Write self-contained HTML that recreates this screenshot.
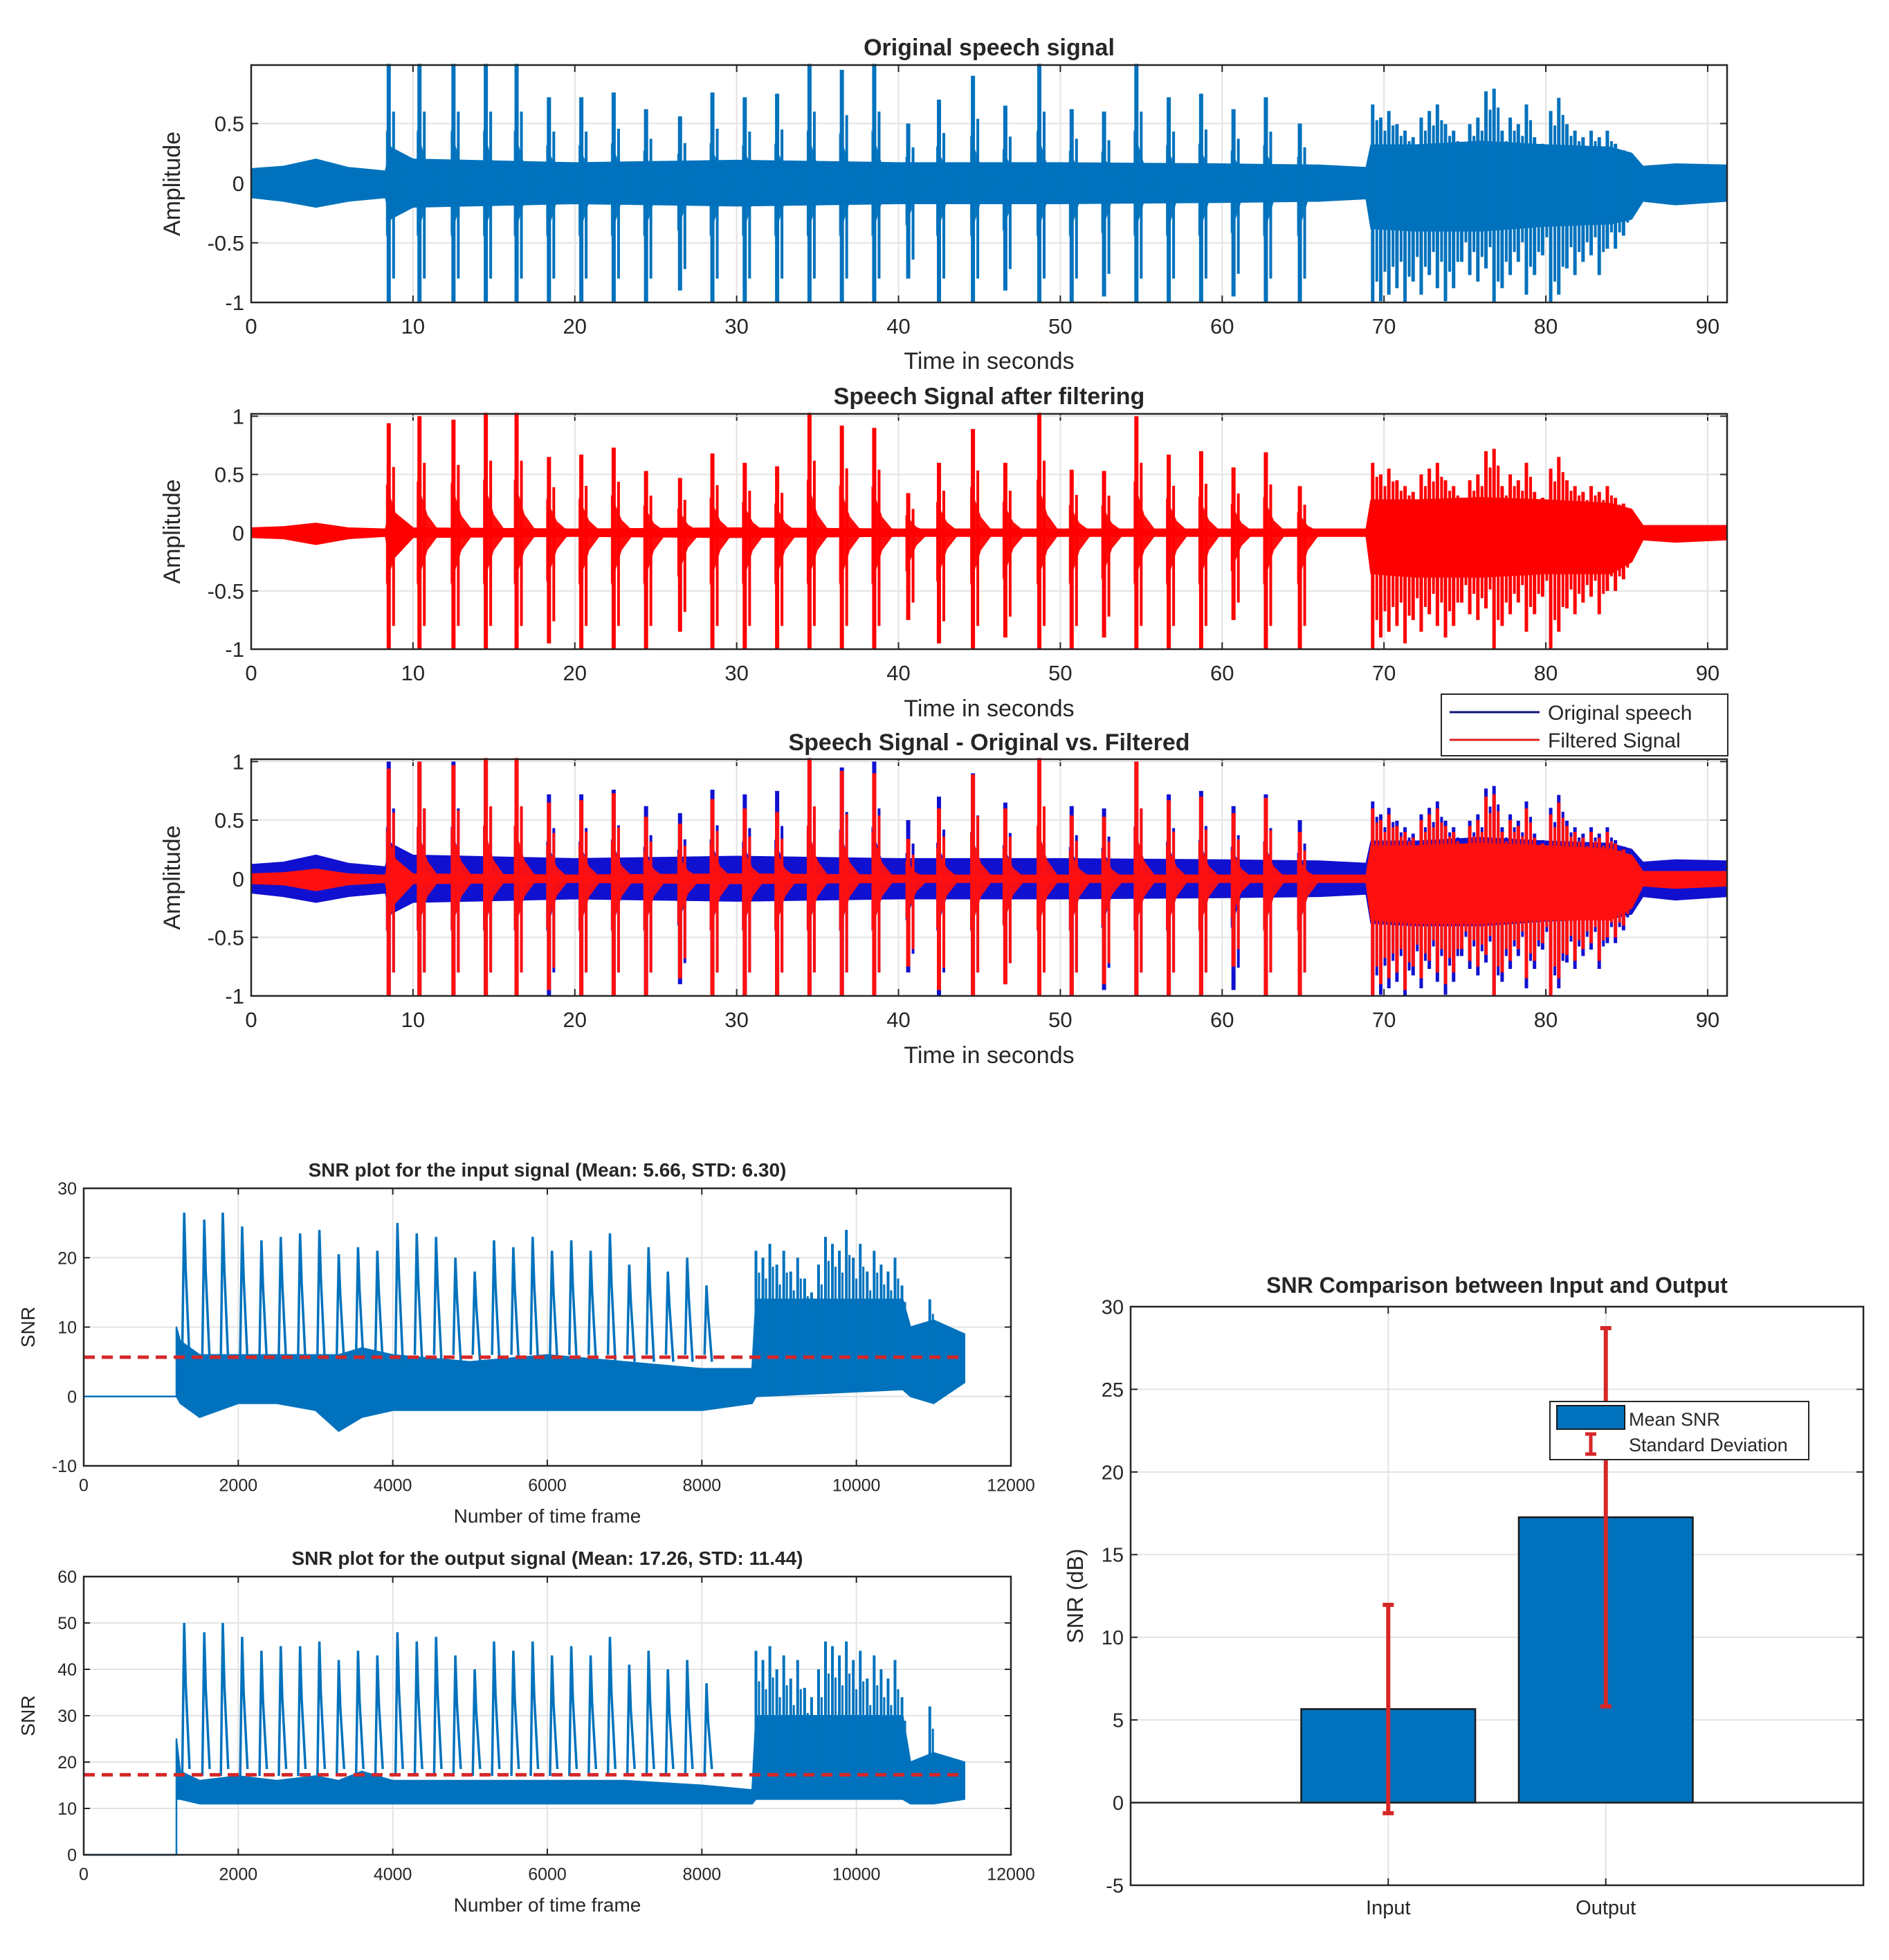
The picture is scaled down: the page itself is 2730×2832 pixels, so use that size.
<!DOCTYPE html>
<html><head><meta charset="utf-8"><style>
html,body{margin:0;padding:0;background:#fff}
svg{display:block}
text{font-family:"Liberation Sans",sans-serif;fill:#262626}
</style></head><body>
<svg id="fig" xmlns="http://www.w3.org/2000/svg" width="2730" height="2832" viewBox="0 0 2730 2832"></svg>
<script>
// ---------- speech data (seconds, amplitude) ----------
const spikeTimes=[8.5,10.4,12.5,14.5,16.4,18.4,20.4,22.4,24.4,26.5,28.5,30.5,32.5,34.5,36.5,38.5,40.6,42.5,44.6,46.6,48.7,50.7,52.7,54.7,56.7,58.7,60.7,62.7,64.8];
const origPos=[1,1,1,1,1,0.72,0.72,0.76,0.62,0.56,0.76,0.72,0.75,1,0.95,1,0.5,0.7,0.9,0.65,1,0.62,0.6,1,0.72,0.75,0.62,0.72,0.5];
const origNeg=[-1,-1,-1,-1,-1,-1,-1,-1,-1,-0.9,-1,-1,-1,-1,-1,-1,-0.8,-1,-1,-0.9,-1,-1,-0.95,-1,-1,-1,-0.95,-1,-1];
const filtPos=[0.94,1,0.97,1.03,1.03,0.65,0.67,0.73,0.53,0.47,0.68,0.6,0.57,1.03,0.92,0.9,0.34,0.6,0.89,0.6,1.03,0.54,0.53,1.0,0.67,0.7,0.56,0.69,0.4];
const filtNeg=[-1,-1,-1,-1,-1,-0.95,-1,-1,-1,-0.85,-1,-1,-1,-1,-1,-1,-0.75,-0.95,-1,-0.9,-1,-1,-0.9,-1,-1,-1,-0.75,-1,-1];
const burstTimes=[69.3,69.8,70.3,70.8,71.3,71.8,72.3,72.8,73.3,73.8,74.3,74.8,75.3,75.8,76.3,76.8,77.3,77.8,78.3,78.8,79.3,79.8,80.3,80.8,81.3,81.8,82.3,82.8,83.3,83.8,84.3,84.8];
const burstPos=[0.6,0.5,0.55,0.45,0.4,0.35,0.5,0.55,0.6,0.45,0.4,0.3,0.45,0.5,0.7,0.72,0.4,0.5,0.45,0.6,0.35,0.3,0.55,0.65,0.45,0.4,0.35,0.4,0.35,0.4,0.3,0.25];
const burstNeg=[-1,-0.9,-0.85,-0.8,-0.95,-0.75,-0.85,-0.7,-0.8,-0.9,-0.8,-0.6,-0.7,-0.75,-0.65,-1,-0.8,-0.7,-0.6,-0.85,-0.7,-0.55,-1,-0.85,-0.65,-0.7,-0.6,-0.55,-0.7,-0.5,-0.5,-0.4];
const noiseTimes=[0,2,4,6,8.3,8.6,10,20,30,40,50,60,66,68.9,69.2,72,76,80,84,85.3,86,88,91.2];
const origUp=[0.12,0.14,0.2,0.13,0.1,0.3,0.2,0.17,0.19,0.17,0.17,0.16,0.15,0.13,0.32,0.32,0.35,0.32,0.3,0.25,0.14,0.16,0.15];
const origDn=[-0.12,-0.15,-0.2,-0.15,-0.12,-0.3,-0.2,-0.17,-0.19,-0.17,-0.17,-0.16,-0.15,-0.13,-0.38,-0.4,-0.4,-0.36,-0.34,-0.3,-0.15,-0.18,-0.15];
const filtUp=[0.04,0.05,0.08,0.04,0.03,0.2,0.04,0.03,0.04,0.03,0.03,0.03,0.03,0.03,0.28,0.28,0.3,0.28,0.25,0.2,0.06,0.06,0.06];
const filtDn=[-0.04,-0.05,-0.1,-0.05,-0.03,-0.25,-0.04,-0.03,-0.04,-0.03,-0.03,-0.03,-0.03,-0.03,-0.35,-0.38,-0.38,-0.35,-0.35,-0.25,-0.06,-0.08,-0.06];
const speechXTicks=[0,10,20,30,40,50,60,70,80,90];
const speechYTicks=[-1,-0.5,0,0.5,1];
const speechYLabels=["-1","-0.5","0","0.5","1"];
// ---------- SNR data (frames, dB) ----------
const snrSpikeFrames=[1300,1560,1800,2050,2300,2550,2800,3050,3300,3550,3800,4060,4310,4560,4810,5060,5310,5560,5810,6060,6310,6560,6810,7060,7310,7560,7810,8060];
const snrInPeak=[26.5,25.5,26.5,24.5,22.5,23,23.5,24,20.5,21.5,21,25,23.5,23,20,18,22.5,21.5,23,21,22.5,21,23.5,19,21.5,18,20,16];
const snrOutPeak=[50,48,50,47,44,45,45,46,42,44,43,48,46,47,43,40,46,44,46,43,45,43,47,41,44,40,42,37];
const snrBurstFrames=[8700,8790,8880,8970,9060,9150,9240,9330,9420,9510,9600,9690,9780,9870,9960,10050,10140,10230,10320,10410,10500,10590,10950];
const snrInBurst=[21,20,22,19,21,18,20,17,15,19,23,22,21,24,20,22,18,21,19,18,20,16,14];
const snrOutBurst=[44,42,45,40,43,38,42,36,34,40,46,45,43,46,42,44,38,43,40,38,42,34,32];
const snrBaseFrames=[1200,1250,1500,2000,2500,3000,3300,3600,4000,5000,6000,7000,8000,8650,8700,10600,10700,11000,11400];
const snrInLow=[0,-1,-3,-1,-1,-2,-5,-3,-2,-2,-2,-2,-2,-1,0,1,0,-1,2];
const snrInHigh=[10,8,6,6,6,6,6,7,6,5,6,5,4,4,14,14,10,11,9];
const snrOutLow=[12,12,11,11,11,11,11,11,11,11,11,11,11,11,12,12,11,11,12];
const snrOutHigh=[25,18,16,17,16,17,16,18,16,16,16,16,15,14,30,30,20,22,20];
const snrMeans=[5.66,17.26];
const snrXTicks=[0,2000,4000,6000,8000,10000,12000];
const snrInYTicks=[-10,0,10,20,30];
const snrOutYTicks=[0,10,20,30,40,50,60];
// ---------- bar data ----------
const barCats=["Input","Output"];
const barMeans=[5.66,17.26];
const barStds=[6.30,11.44];
const barYTicks=[-5,0,5,10,15,20,25,30];

const NS="http://www.w3.org/2000/svg";
const fig=document.getElementById('fig');
function el(tag,attrs,parent){const e=document.createElementNS(NS,tag);for(const k in attrs)e.setAttribute(k,attrs[k]);(parent||fig).appendChild(e);return e;}
function txt(s,x,y,size,anchor,weight,parent){const t=el('text',{x:x,y:y,'font-size':size,'text-anchor':anchor||'middle','font-weight':weight||'normal'},parent);t.textContent=s;return t;}
function axis(L,R,T,B,x0,x1,y0,y1){return{L,R,T,B,sx:v=>L+(v-x0)/(x1-x0)*(R-L),sy:v=>B-(v-y0)/(y1-y0)*(B-T)};}

function frame(ax,g,xt,xl,yt,yl,fs,tickLen){
  xt.forEach(v=>{const x=ax.sx(v);const l=el('line',{x1:x,y1:ax.T,x2:x,y2:ax.B,stroke:'#e3e3e3','stroke-width':2},g);
    
    
    el('line',{x1:x,y1:ax.B,x2:x,y2:ax.B-tickLen,stroke:'#262626','stroke-width':2},g);
    el('line',{x1:x,y1:ax.T,x2:x,y2:ax.T+tickLen,stroke:'#262626','stroke-width':2},g);});
  yt.forEach(v=>{const y=ax.sy(v);const l=el('line',{x1:ax.L,y1:y,x2:ax.R,y2:y,stroke:'#e3e3e3','stroke-width':2},g);
    
    
    el('line',{x1:ax.L,y1:y,x2:ax.L+tickLen,y2:y,stroke:'#262626','stroke-width':2},g);
    el('line',{x1:ax.R,y1:y,x2:ax.R-tickLen,y2:y,stroke:'#262626','stroke-width':2},g);});
  xt.forEach((v,i)=>{if(xl[i]===null)return;const t=txt(xl[i],ax.sx(v),ax.B+fs*1.45,fs,'middle','normal',g);
    
    });
  yt.forEach((v,i)=>{const t=txt(yl[i],ax.L-10,ax.sy(v)+fs*0.36,fs,'end','normal',g);
    
    });
}
function box(ax,g){const r=el('rect',{x:ax.L,y:ax.T,width:ax.R-ax.L,height:ax.B-ax.T,fill:'none',stroke:'#262626','stroke-width':2.5},g);
  
  }

function band(ax,g,xs,up,dn,color,name){let p=xs.map((x,i)=>ax.sx(x)+','+ax.sy(up[i]));for(let i=xs.length-1;i>=0;i--)p.push(ax.sx(xs[i])+','+ax.sy(dn[i]));
  const e=el('polygon',{points:p.join(' '),fill:color,stroke:color,'stroke-width':2,'stroke-linejoin':'round'},g);
  
  }

function speech(ax,g,color,pos,neg,up,dn,bScale,name){
  band(ax,g,noiseTimes,up,dn,color,name+'-envelope');
  spikeTimes.forEach((t,i)=>{
    const x=ax.sx(t);
    const d=el('polygon',{points:[x-4,ax.sy(pos[i]*0.45),ax.sx(t+0.5),ax.sy(pos[i]*0.15),ax.sx(t+1.3),ax.sy(0),ax.sx(t+0.5),ax.sy(neg[i]*0.15),x-4,ax.sy(neg[i]*0.45)].join(' '),fill:color,opacity:0.95},g);
    
    
    const l=el('line',{x1:x,y1:ax.sy(neg[i]),x2:x,y2:ax.sy(pos[i]),stroke:color,'stroke-width':6},g);
    
    
    const l2=el('line',{x1:x+7,y1:ax.sy(neg[i]*0.8),x2:x+7,y2:ax.sy(pos[i]*0.6),stroke:color,'stroke-width':4},g);
    
    
  });
  burstTimes.forEach((t,i)=>{const x=ax.sx(t);
    const l=el('line',{x1:x,y1:ax.sy(Math.max(burstNeg[i]*bScale,-1)),x2:x,y2:ax.sy(Math.min(burstPos[i]*bScale,1)),stroke:color,'stroke-width':5},g);
    
    
    const l2=el('line',{x1:x+6,y1:ax.sy(burstNeg[i]*bScale*0.75),x2:x+6,y2:ax.sy(burstPos[i]*bScale*0.8),stroke:color,'stroke-width':4},g);
    
    });
}

const sxl=speechXTicks.map(String);
function speechPanel(T,B,ymax,yt,yl,title,titleY,ticky,panelName,drawFn){
  const g=el('g',{});  
  const ax=axis(363,2496,T,B,0,91.2,-1,ymax);
  frame(ax,g,speechXTicks,sxl,yt,yl,31,10);
  const clip=el('g',{},g);
  drawFn(ax,clip);
  box(ax,g);
  const tt=txt(title,(363+2496)/2,titleY,34,'middle','bold',g);
  
  
  const xlb=txt('Time in seconds',(363+2496)/2,ticky+45,34,'middle','normal',g);
  
  
  const ylb=txt('Amplitude',0,0,34,'middle','normal',g);
  ylb.setAttribute('transform','translate(260,'+((T+B)/2)+') rotate(-90)');
  
  
  return g;
}
speechPanel(94,437,0.99,speechYTicks.slice(0,4),speechYLabels.slice(0,4),'Original speech signal',80,488,'original-speech-panel',(ax,g)=>speech(ax,g,'#0072BD',origPos,origNeg,origUp,origDn,1.1,'original-signal'));
speechPanel(598,938,1.02,speechYTicks,speechYLabels,'Speech Signal after filtering',584,990,'filtered-speech-panel',(ax,g)=>speech(ax,g,'#ff0000',filtPos,filtNeg,filtUp,filtDn,1.0,'filtered-signal'));
speechPanel(1097,1439,1.02,speechYTicks,speechYLabels,'Speech Signal - Original vs. Filtered',1084,1491,'comparison-panel',(ax,g)=>{
  speech(ax,g,'#1010d0',origPos,origNeg,origUp,origDn,1.1,'original-signal');
  speech(ax,g,'#ff1010',filtPos,filtNeg,filtUp,filtDn,1.0,'filtered-signal');});

// legend
(function(){const g=el('g',{});
  el('rect',{x:2083,y:1003,width:414,height:89,fill:'#fff',stroke:'#262626','stroke-width':2},g);
  const a=el('line',{x1:2095,y1:1029,x2:2225,y2:1029,stroke:'#10107a','stroke-width':3},g);
  
  const b=el('line',{x1:2095,y1:1069,x2:2225,y2:1069,stroke:'#e02020','stroke-width':3},g);
  
  const t1=txt('Original speech',2237,1040,30,'start','normal',g);
  const t2=txt('Filtered Signal',2237,1080,30,'start','normal',g);})();

// ---------- SNR panels ----------
function snrPanel(T,B,ymin,ymax,yt,title,titleY,peaks,burst,low,high,mean,panelName){
  const g=el('g',{});
  const ax=axis(121,1461,T,B,0,12000,ymin,ymax);
  frame(ax,g,snrXTicks,snrXTicks.map(String),yt,yt.map(String),25,9);
  const c='#0072BD';
  const base=el('polyline',{points:[ax.sx(0),ax.sy(0),ax.sx(1200),ax.sy(0),ax.sx(1200),ax.sy(high[0])].join(' '),fill:'none',stroke:c,'stroke-width':2.5},g);
  
  band(ax,g,snrBaseFrames,high,low,c,'snr-band');
  snrSpikeFrames.forEach((f,i)=>{
    const midv=(low[0]+high[0])/2;
    const p=el('polyline',{points:[ax.sx(f-25),ax.sy(high[3]),ax.sx(f),ax.sy(peaks[i]),ax.sx(f+20),ax.sy(high[3]+ (peaks[i]-high[3])*0.6),ax.sx(f+70),ax.sy(midv)].join(' '),fill:'none',stroke:c,'stroke-width':3.5},g);
    });
  snrBurstFrames.forEach((f,i)=>{
    const p=el('line',{x1:ax.sx(f),y1:ax.sy(low[15]),x2:ax.sx(f),y2:ax.sy(burst[i]),stroke:c,'stroke-width':4},g);
    
    const p2=el('line',{x1:ax.sx(f+40),y1:ax.sy(low[15]),x2:ax.sx(f+40),y2:ax.sy(burst[i]*0.85),stroke:c,'stroke-width':3},g);
    });
  const m=el('line',{x1:ax.sx(0),y1:ax.sy(mean),x2:ax.sx(11400),y2:ax.sy(mean),stroke:'#d62728','stroke-width':5,'stroke-dasharray':'16 10'},g);
  
  box(ax,g);
  const tt=txt(title,791,titleY,28,'middle','bold',g);
  const xl=txt('Number of time frame',791,B+82,28,'middle','normal',g);
  const yl=txt('SNR',0,0,28,'middle','normal',g);yl.setAttribute('transform','translate(50,'+((T+B)/2)+') rotate(-90)');
  
}
snrPanel(1717,2118,-10,30,snrInYTicks,'SNR plot for the input signal (Mean: 5.66, STD: 6.30)',1700,snrInPeak,snrInBurst,snrInLow,snrInHigh,snrMeans[0],'snr-input-panel');
snrPanel(2278,2680,0,60,snrOutYTicks,'SNR plot for the output signal (Mean: 17.26, STD: 11.44)',2261,snrOutPeak,snrOutBurst,snrOutLow,snrOutHigh,snrMeans[1],'snr-output-panel');

// ---------- bar chart ----------
(function(){const g=el('g',{});
  const ax=axis(1634,2693,1888,2724,-0.184,3.184,-5,30);
  frame(ax,g,[1,2],barCats,barYTicks,barYTicks.map(String),29,10);
  barCats.forEach((c,i)=>{const x=ax.sx(i+1);const w=ax.sx(0.4)-ax.sx(0);
    const r=el('rect',{x:x-w,y:ax.sy(barMeans[i]),width:2*w,height:ax.sy(0)-ax.sy(barMeans[i]),fill:'#0072BD',stroke:'#1a1a1a','stroke-width':2.5},g);
    });
  const z=el('line',{x1:ax.L,y1:ax.sy(0),x2:ax.R,y2:ax.sy(0),stroke:'#262626','stroke-width':2.5},g);
  
  barCats.forEach((c,i)=>{const x=ax.sx(i+1);const lo=ax.sy(barMeans[i]-barStds[i]),hi=ax.sy(barMeans[i]+barStds[i]);
    const e=el('path',{d:`M${x},${lo}V${hi}M${x-8},${lo}H${x+8}M${x-8},${hi}H${x+8}`,stroke:'#d62728','stroke-width':6,fill:'none'},g);
    });
  box(ax,g);
  const tt=txt('SNR Comparison between Input and Output',(1634+2693)/2,1868,32,'middle','bold',g);
  const yl=txt('SNR (dB)',0,0,32,'middle','normal',g);yl.setAttribute('transform','translate(1565,'+((1888+2724)/2)+') rotate(-90)');
  
  const lg=el('g',{},g);
  el('rect',{x:2240,y:2025,width:374,height:84,fill:'#fff',stroke:'#262626','stroke-width':2},lg);
  const sw=el('rect',{x:2250,y:2031,width:98,height:34,fill:'#0072BD',stroke:'#1a1a1a','stroke-width':2},lg);
  
  el('path',{d:'M2299,2072V2101M2291,2072H2307M2291,2101H2307',stroke:'#d62728','stroke-width':5,fill:'none'},lg);
  const a=txt('Mean SNR',2354,2060,27,'start','normal',lg);
  const b=txt('Standard Deviation',2354,2097,27,'start','normal',lg);
})();
</script>
</body></html>
